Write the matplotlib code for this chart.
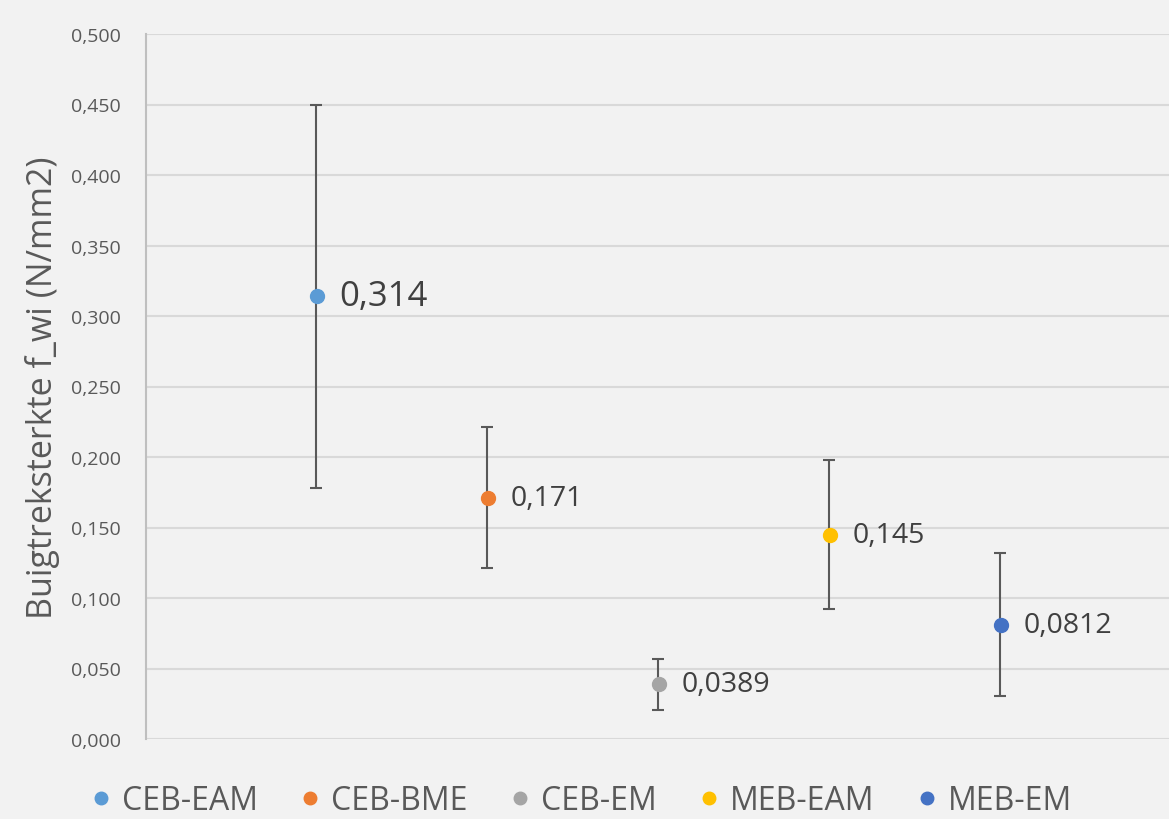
import numpy as np
import matplotlib.pyplot as plt

plt.rcParams['font.family'] = ['Open Sans', 'DejaVu Sans']

groups = ['CEB-EAM', 'CEB-BME', 'CEB-EM', 'MEB-EAM', 'MEB-EM']
means = [0.314, 0.171, 0.0389, 0.145, 0.0812]
errors = [0.136, 0.050, 0.018, 0.053, 0.051]
labels = ['0,314', '0,171', '0,0389', '0,145', '0,0812']
label_sizes = [25, 20.5, 20.5, 20.5, 20.5]
colors = ['#5B9BD5', '#ED7D31', '#A5A5A5', '#FFC000', '#4472C4']

bg = '#F2F2F2'
txt = '#595959'

fig = plt.figure(figsize=(11.69, 8.20), dpi=100, facecolor=bg)
ax = fig.add_axes([146/1169, 80/820, 1023/1169, 705/820], facecolor=bg)

xs = np.arange(1, len(groups) + 1)
for x, m, e, c, g, lab, fs in zip(xs, means, errors, colors, groups, labels, label_sizes):
    ax.errorbar(x - 0.006, m, yerr=e, fmt='none', ecolor='#595959', elinewidth=1.5,
                capsize=4.3, capthick=1.5, zorder=3)
    ax.plot(x, m, 'o', color=c, markersize=10, label=g, zorder=4)
    ax.annotate(lab, (x, m), xytext=(16, 0), textcoords='offset points',
                va='center', ha='left', fontsize=fs, color='#404040')

ax.set_xlim(0, 1023/171)
ax.set_ylim(0, 0.5)
ax.set_yticks(np.arange(0, 0.501, 0.05))
ax.set_yticklabels([f'{v:.3f}'.replace('.', ',') for v in np.arange(0, 0.501, 0.05)],
                   fontsize=14, color=txt)
ax.set_xticks([])
ax.tick_params(axis='y', length=0, pad=18)
ax.grid(axis='y', color='#D9D9D9', linewidth=1.5)
ax.set_axisbelow(True)
for s in ['top', 'right', 'bottom']:
    ax.spines[s].set_visible(False)
ax.spines['left'].set_color('#BFBFBF')
ax.spines['left'].set_linewidth(1.5)
ax.set_ylabel('Buigtreksterkte f_wi (N/mm2)', fontsize=24.5, color=txt, labelpad=8)

fig.legend(loc='lower center', bbox_to_anchor=(0.495, -0.033), ncol=5, frameon=False,
           fontsize=23, labelcolor=txt, handletextpad=0.15, columnspacing=1.15,
           markerscale=0.9, handlelength=1.0)

fig.savefig('out.png', dpi=100, facecolor=bg)
